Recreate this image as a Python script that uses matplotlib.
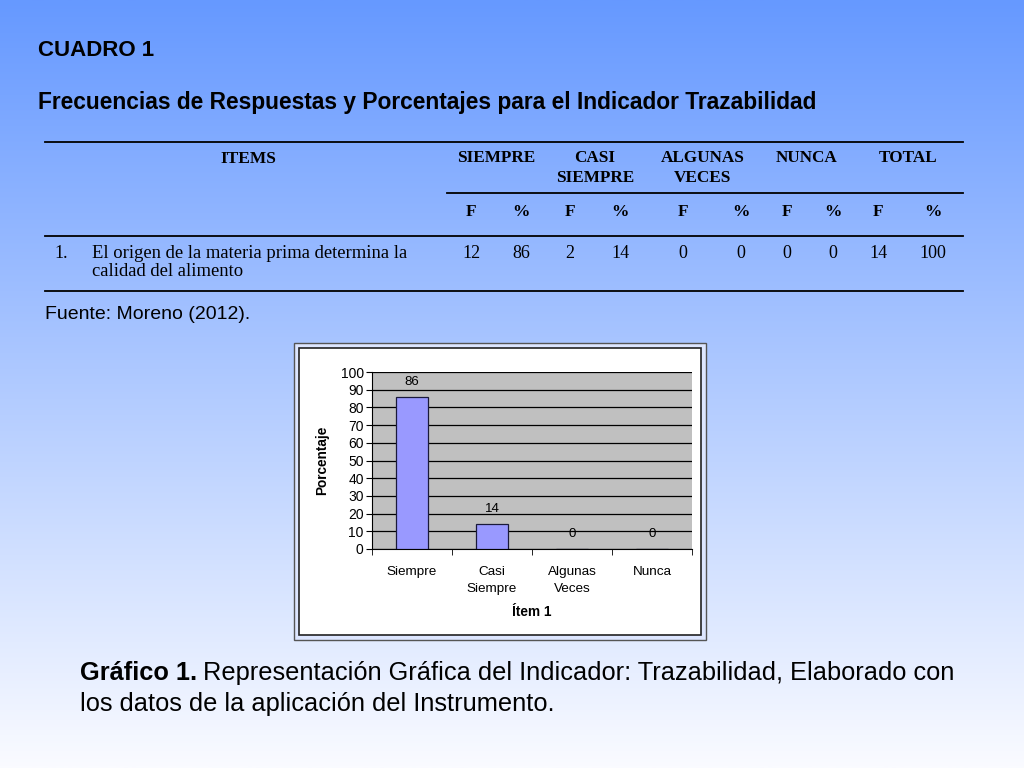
import numpy as np
import matplotlib
matplotlib.use("Agg")
import matplotlib.pyplot as plt
from matplotlib.lines import Line2D
from matplotlib.patches import Rectangle

# data
categorias = ["Siempre", "Casi\nSiempre", "Algunas\nVeces", "Nunca"]
porcentajes = [86, 14, 0, 0]

encabezados = ["SIEMPRE", "CASI\nSIEMPRE", "ALGUNAS\nVECES", "NUNCA", "TOTAL"]
sub_encabezados = ["F", "%", "F", "%", "F", "%", "F", "%", "F", "%"]
fila_valores = ["12", "86", "2", "14", "0", "0", "0", "0", "14", "100"]
item_texto = "El origen de la materia prima determina la\ncalidad del alimento"

W, H = 1024, 768
fig = plt.figure(figsize=(W / 100, H / 100), dpi=100)


def fx(x):
    return x / W


def fy(y):
    return 1 - y / H


# gradient background
bg = fig.add_axes([0, 0, 1, 1], zorder=-10)
top = np.array([102, 153, 255]) / 255
bot = np.array([250, 251, 255]) / 255
t = np.linspace(0, 1, 256)[:, None]
grad = top[None, :] * (1 - t) + bot[None, :] * t
bg.imshow(grad[:, None, :], aspect="auto", extent=[0, 1, 0, 1])
bg.set_axis_off()

sans = "Liberation Sans"
serif = "Liberation Serif"

fig.text(fx(38), fy(50), "CUADRO 1", family=sans, weight="bold",
         fontsize=16, va="center", ha="left")
fig.text(fx(38), fy(103),
         "Frecuencias de Respuestas y Porcentajes para el Indicador Trazabilidad",
         family=sans, weight="bold", fontsize=16.4, va="center", ha="left")

# table lines
for x0, x1, y in [(45, 963, 142), (447, 963, 193), (45, 963, 236), (45, 963, 291)]:
    fig.add_artist(Line2D([fx(x0), fx(x1)], [fy(y), fy(y)], color="black", lw=1.3))

fig.text(fx(248), fy(159), "ITEMS", family=serif, weight="bold", fontsize=12.5,
         ha="center", va="center")
head_x = [496, 595, 703, 807, 908]
for x, s in zip(head_x, encabezados):
    fig.text(fx(x), fy(150), s, family=serif, weight="bold", fontsize=12.3,
             ha="center", va="top", linespacing=1.3)

col_x = [471, 521, 570, 620, 683, 741, 787, 833, 878, 933]
for x, s in zip(col_x, sub_encabezados):
    fig.text(fx(x), fy(212), s, family=serif, weight="bold", fontsize=12.5,
             ha="center", va="center")
for x, s in zip(col_x, fila_valores):
    fig.text(fx(x), fy(253), s, family=serif, fontsize=13,
             ha="center", va="center")

fig.text(fx(54), fy(253), "1.", family=serif, fontsize=13, ha="left", va="center")
fig.text(fx(92), fy(245), item_texto, family=serif, fontsize=13.4,
         ha="left", va="top", linespacing=1.1)

fig.text(fx(45), fy(314), "Fuente: Moreno (2012).", family=sans, fontsize=14,
         ha="left", va="center")

# chart frame
fig.add_artist(Rectangle((fx(294), fy(640)), fx(412), 297 / H,
                         facecolor="#dde6ff", edgecolor="#555555", lw=1.0,
                         transform=fig.transFigure, zorder=-5))
fig.add_artist(Rectangle((fx(299), fy(635)), fx(402), 287 / H,
                         facecolor="white", edgecolor="#222222", lw=1.2,
                         transform=fig.transFigure, zorder=-4))

ax = fig.add_axes([fx(372), fy(549), fx(320), 177 / H])
ax.set_facecolor("#c0c0c0")
x = np.arange(len(categorias))
ax.bar(x, porcentajes, width=0.4, color="#9999ff", edgecolor="#1a1a3a",
       linewidth=0.9, zorder=3)
for xi, v in zip(x, porcentajes):
    ax.text(xi, v + 8.5, str(v), ha="center", va="center", fontsize=9.5,
            family=sans, zorder=4)
ax.set_xlim(-0.5, len(categorias) - 0.5)
ax.set_ylim(0, 100)
ax.set_yticks(range(0, 101, 10))
ax.yaxis.grid(True, color="black", lw=0.9, zorder=1)
ax.set_axisbelow(True)
ax.set_xticks(x)
ax.set_xticklabels(categorias, family=sans, fontsize=9.7, linespacing=1.55)
ax.set_xticks(np.arange(-0.5, len(categorias)), minor=True)
ax.tick_params(axis="x", which="major", length=0, pad=12)
ax.tick_params(axis="x", which="minor", length=4, direction="out")
ax.tick_params(axis="y", length=4, direction="out", labelsize=10, pad=2)
for lab in ax.get_yticklabels():
    lab.set_family(sans)
for s in ["top", "right"]:
    ax.spines[s].set_visible(False)
ax.spines["left"].set_color("black")
ax.spines["bottom"].set_color("black")
ax.set_ylabel("Porcentaje", family=sans, weight="bold", fontsize=9.8)
ax.yaxis.set_label_coords((322 - 372) / 320, 0.5)
ax.set_xlabel("Ítem 1", family=sans, weight="bold", fontsize=9.8)
ax.xaxis.set_label_coords(0.5, -(612 - 549) / 177)
ax.xaxis.label.set_va("center")
ax.yaxis.label.set_va("center")

# caption: bold prefix followed by regular text
cap_size = 18.3
t1 = fig.text(fx(80), fy(673), "Gráfico 1.", family=sans, weight="bold",
              fontsize=cap_size, ha="left", va="center")
renderer = fig.canvas.get_renderer()
bb = t1.get_window_extent(renderer)
fig.text((bb.x1 + 6) / W, fy(673),
         "Representación Gráfica del Indicador: Trazabilidad, Elaborado con",
         family=sans, fontsize=cap_size, ha="left", va="center")
fig.text(fx(80), fy(704), "los datos de la aplicación del Instrumento.",
         family=sans, fontsize=cap_size, ha="left", va="center")

fig.savefig("out.png", dpi=100)
